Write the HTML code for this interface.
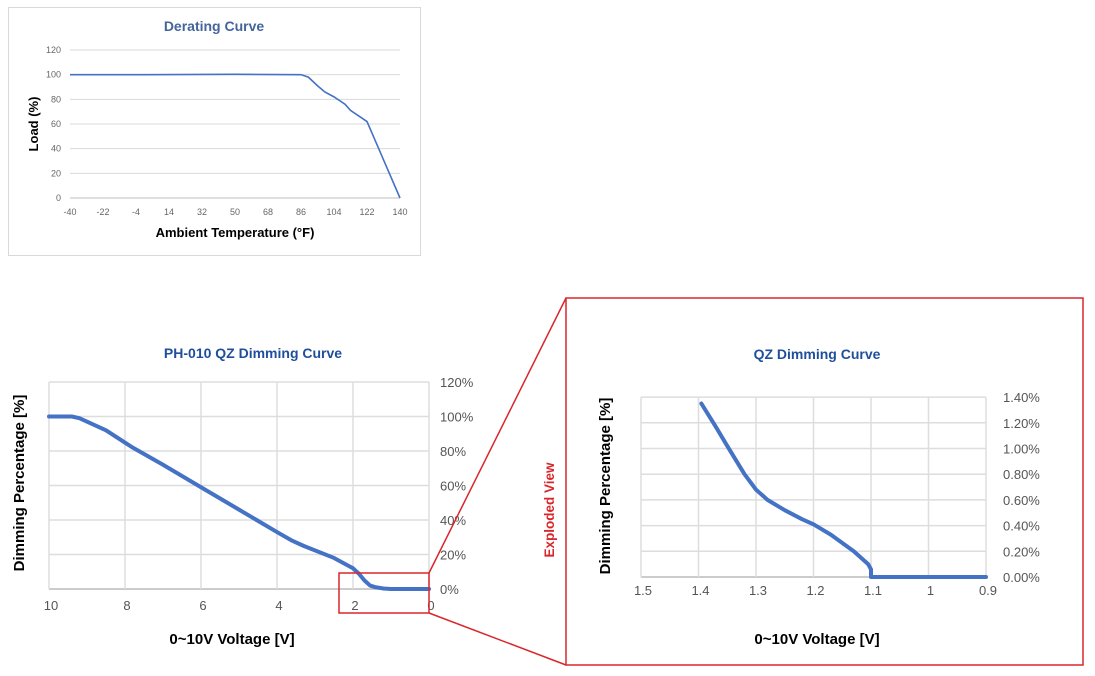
<!DOCTYPE html>
<html><head><meta charset="utf-8"><style>
body{margin:0;background:#fff;width:1095px;height:676px;overflow:hidden;font-family:"Liberation Sans",Arial,sans-serif}
svg{position:absolute;left:0;top:0}
</style></head><body>
<svg id="s" width="1095" height="676"></svg>
<script>
// Derating chart data
const derTicks=[-40,-22,-4,14,32,50,68,86,104,122,140];
const derX=[-40,0,50,86,90,95,99,104,110,113,118,122,140];
const derY=[100,100,100.3,100,98,91,86,82,76,71,66,62,0];
const derYTicks=[0,20,40,60,80,100,120];
// Main dimming curve
const dimXTicks=[10,8,6,4,2,0];
const dimYTicks=[0,20,40,60,80,100,120];
const dimV=[10,9.4,9.2,8.5,7.8,7,6,5,4,3.6,3.3,2.5,2,1.85,1.7,1.55,1.4,1.2,1,0];
const dimP=[100,100,99,92,82,72,59,46,33,28,25,18,12,9,5,2,1,0.3,0,0];
// Exploded curve
const qzXTicks=[1.5,1.4,1.3,1.2,1.1,1,0.9];
const qzYTicks=[0,0.2,0.4,0.6,0.8,1.0,1.2,1.4];
const qzV=[1.395,1.37,1.35,1.32,1.3,1.28,1.25,1.22,1.2,1.17,1.13,1.105,1.1,1.1,0.9];
const qzP=[1.35,1.17,1.02,0.8,0.68,0.6,0.52,0.45,0.41,0.33,0.2,0.1,0.06,0,0];

const s=document.getElementById('s');const NS='http://www.w3.org/2000/svg';
function el(t,a,txt){const e=document.createElementNS(NS,t);for(const k in a)e.setAttribute(k,a[k]);if(txt!==undefined)e.textContent=txt;s.appendChild(e);return e;}

// ---- Derating chart ----
let b=el('rect',{x:8.5,y:7.5,width:412,height:248,fill:'#fff',stroke:'#d9d9d9'});


const dx=v=>70+(v+40)/180*330, dy=v=>198-v/120*148;
let t=el('text',{x:214,y:31,'text-anchor':'middle','font-size':14,'font-weight':'bold',fill:'#44649c'},'Derating Curve');


derYTicks.forEach(v=>{
 let g=el('line',{x1:70,x2:400,y1:dy(v),y2:dy(v),stroke:v===0?'#bfbfbf':'#d9d9d9'});
 
 
 let l=el('text',{x:61,y:dy(v)+3,'text-anchor':'end','font-size':9,fill:'#666'},v);
 
 
});
derTicks.forEach((v,i)=>{
 let l=el('text',{x:70+i*33,y:215,'text-anchor':'middle','font-size':9,fill:'#666'},v);
 
 
});
let p=el('polyline',{points:derX.map((v,i)=>dx(v)+','+dy(derY[i])).join(' '),fill:'none',stroke:'#4472c4','stroke-width':1.6});


t=el('text',{x:235,y:237,'text-anchor':'middle','font-size':13,'font-weight':'bold'},'Ambient Temperature (°F)');


t=el('text',{x:0,y:0,'text-anchor':'middle','font-size':13,'font-weight':'bold',transform:'translate(38,124) rotate(-90)'},'Load (%)');



// ---- Main dimming chart ----
const mx=v=>429-v*38, my=v=>589-v/20*34.5;
dimYTicks.forEach(v=>{
 let g=el('line',{x1:49,x2:429,y1:my(v),y2:my(v),stroke:v===0?'#bbb':'#ddd','stroke-width':1.5});
 
 
 let l=el('text',{x:440,y:my(v)+5,'font-size':13,fill:'#555'},v+'%');
 
 
});
dimXTicks.forEach(v=>{
 let g=el('line',{x1:mx(v),x2:mx(v),y1:my(120),y2:589,stroke:'#ddd','stroke-width':1.5});
 
 
 let l=el('text',{x:mx(v)+2,y:610,'text-anchor':'middle','font-size':13,fill:'#555'},v);
 
 
});
p=el('polyline',{points:dimV.map((v,i)=>mx(v)+','+my(dimP[i])).join(' '),fill:'none',stroke:'#4472c4','stroke-width':4,'stroke-linejoin':'round','stroke-linecap':'round'});


t=el('text',{x:253,y:358,'text-anchor':'middle','font-size':14,'font-weight':'bold',fill:'#1f4e9c'},'PH-010 QZ Dimming Curve');


t=el('text',{x:232,y:644,'text-anchor':'middle','font-size':15,'font-weight':'bold'},'0~10V Voltage [V]');


t=el('text',{x:0,y:0,'text-anchor':'middle','font-size':15,'font-weight':'bold',transform:'translate(24,483) rotate(-90)'},'Dimming Percentage [%]');



// ---- Zoom callout ----
let r=el('rect',{x:339,y:573,width:90,height:40,fill:'none',stroke:'#d9262b','stroke-width':1.5});


let ln=el('line',{x1:429,y1:573,x2:566,y2:298,stroke:'#d9262b','stroke-width':1.5});


ln=el('line',{x1:429,y1:613,x2:566,y2:665,stroke:'#d9262b','stroke-width':1.5});


r=el('rect',{x:566,y:298,width:517,height:367,fill:'none',stroke:'#d9262b','stroke-width':1.5});


t=el('text',{x:0,y:0,'text-anchor':'middle','font-size':13.5,'font-weight':'bold',fill:'#d9262b',transform:'translate(554,510) rotate(-90)'},'Exploded View');



// ---- QZ chart ----
const qx=v=>641+(1.5-v)/0.1*57.5, qy=v=>577-v/0.2*25.7;
qzYTicks.forEach(v=>{
 let g=el('line',{x1:641,x2:986,y1:qy(v),y2:qy(v),stroke:v===0?'#bbb':'#ddd','stroke-width':1.5});
 
 
 let l=el('text',{x:1003,y:qy(v)+5,'font-size':13,fill:'#555'},v.toFixed(2)+'%');
 
 
});
qzXTicks.forEach(v=>{
 let g=el('line',{x1:qx(v),x2:qx(v),y1:qy(1.4),y2:577,stroke:'#ddd','stroke-width':1.5});
 
 
 let l=el('text',{x:qx(v)+2,y:595,'text-anchor':'middle','font-size':13,fill:'#555'},v);
 
 
});
p=el('polyline',{points:qzV.map((v,i)=>qx(v)+','+qy(qzP[i])).join(' '),fill:'none',stroke:'#4472c4','stroke-width':4,'stroke-linejoin':'round','stroke-linecap':'round'});


t=el('text',{x:817,y:359,'text-anchor':'middle','font-size':14,'font-weight':'bold',fill:'#1f4e9c'},'QZ Dimming Curve');


t=el('text',{x:817,y:644,'text-anchor':'middle','font-size':15,'font-weight':'bold'},'0~10V Voltage [V]');


t=el('text',{x:0,y:0,'text-anchor':'middle','font-size':15,'font-weight':'bold',transform:'translate(610,486) rotate(-90)'},'Dimming Percentage [%]');


</script>
</body></html>
